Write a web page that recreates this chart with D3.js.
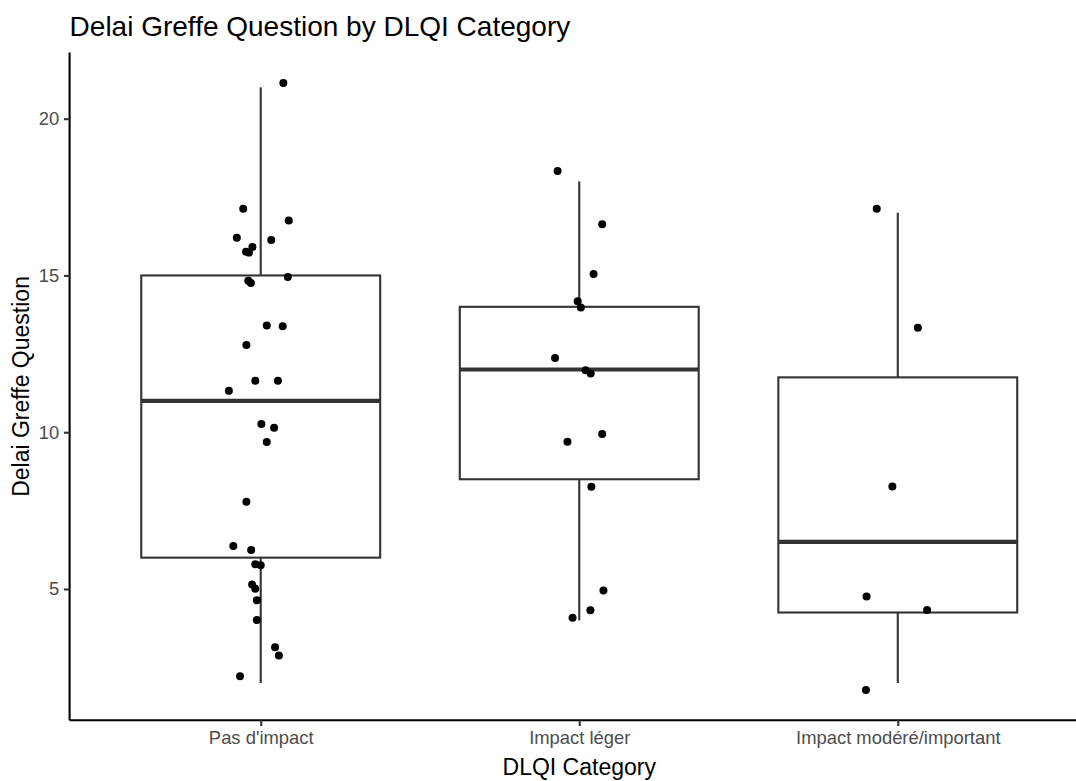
<!DOCTYPE html>
<html>
<head>
<meta charset="utf-8">
<script src="https://cdn.jsdelivr.net/npm/d3@7"></script>
<style>
  html, body { margin: 0; padding: 0; background: #ffffff; }
  svg { display: block; font-family: "Liberation Sans", Arial, sans-serif; }
</style>
</head>
<body>
<svg id="chart" width="1076" height="781"></svg>
<script>
// ---------------- data ----------------
const categories = ["Pas d'impact", "Impact léger", "Impact modéré/important"];

// box statistics per category: [lower whisker, Q1, median, Q3, upper whisker]
const boxStats = [
  [2, 6, 11, 15, 21],
  [4, 8.5, 12, 14, 18],
  [2, 4.25, 6.5, 11.75, 17]
];

// jittered points per category: [horizontal jitter (category units), value]
const ptsPas = [
  [0.071, 21.14], [-0.055, 17.13], [0.088, 16.75], [-0.075, 16.20], [0.033, 16.13],
  [-0.026, 15.91], [-0.046, 15.76], [-0.037, 15.73], [0.085, 14.95], [-0.039, 14.83],
  [-0.031, 14.76], [0.019, 13.40], [0.069, 13.38], [-0.045, 12.78], [-0.017, 11.64],
  [0.054, 11.64], [-0.100, 11.32], [0.002, 10.26], [0.042, 10.14], [0.019, 9.69],
  [-0.045, 7.78], [-0.086, 6.37], [-0.030, 6.24], [-0.017, 5.79], [0.000, 5.76],
  [-0.027, 5.14], [-0.017, 5.01], [-0.012, 4.64], [-0.012, 4.01], [0.045, 3.14],
  [0.057, 2.88], [-0.065, 2.22]
];
const ptsLeger = [
  [-0.068, 18.33], [0.072, 16.63], [0.045, 15.05], [-0.005, 14.18], [0.005, 13.98],
  [-0.076, 12.37], [0.020, 11.98], [0.036, 11.87], [0.072, 9.94], [-0.037, 9.70],
  [0.038, 8.26], [0.076, 4.95], [0.035, 4.32], [-0.021, 4.08]
];
const ptsModere = [
  [-0.066, 17.13], [0.063, 13.33], [-0.017, 8.27], [-0.098, 4.76], [0.092, 4.33],
  [-0.100, 1.78]
];
const yTicks = [5, 10, 15, 20];

const titleText = "Delai Greffe Question by DLQI Category";
const xTitle = "DLQI Category";
const yTitle = "Delai Greffe Question";

// ---------------- layout ----------------
const svg = d3.select("#chart");
const panel = { left: 69.6, right: 1088.9, top: 52.6, bottom: 720.3 };

const allPts = [ptsPas, ptsLeger, ptsModere].flatMap((arr, i) =>
  arr.map(d => ({ cat: i, jit: d[0], v: d[1] })));

const allVals = allPts.map(d => d.v).concat(boxStats.flat());
const vmin = d3.min(allVals), vmax = d3.max(allVals);
const pad = (vmax - vmin) * 0.05;

const x = d3.scaleLinear().domain([0.4, 3.6]).range([panel.left, panel.right]);
const y = d3.scaleLinear().domain([vmin - pad, vmax + pad]).range([panel.bottom, panel.top]);

const boxW = 0.75; // in category units
const lw = 2.1;

// ---------------- boxes ----------------
const g = svg.append("g");
const boxes = g.selectAll("g.box").data(boxStats).join("g").attr("class", "box");

boxes.append("line")
  .attr("x1", (d, i) => x(i + 1)).attr("x2", (d, i) => x(i + 1))
  .attr("y1", d => y(d[3])).attr("y2", d => y(d[4]))
  .attr("stroke", "#333333").attr("stroke-width", lw);
boxes.append("line")
  .attr("x1", (d, i) => x(i + 1)).attr("x2", (d, i) => x(i + 1))
  .attr("y1", d => y(d[1])).attr("y2", d => y(d[0]))
  .attr("stroke", "#333333").attr("stroke-width", lw);
boxes.append("rect")
  .attr("x", (d, i) => x(i + 1 - boxW / 2))
  .attr("width", (d, i) => x(i + 1 + boxW / 2) - x(i + 1 - boxW / 2))
  .attr("y", d => y(d[3]))
  .attr("height", d => y(d[1]) - y(d[3]))
  .attr("fill", "#ffffff").attr("stroke", "#333333").attr("stroke-width", lw);
boxes.append("line")
  .attr("x1", (d, i) => x(i + 1 - boxW / 2)).attr("x2", (d, i) => x(i + 1 + boxW / 2))
  .attr("y1", d => y(d[2])).attr("y2", d => y(d[2]))
  .attr("stroke", "#333333").attr("stroke-width", lw * 2);

// ---------------- points ----------------
g.selectAll("circle.pt").data(allPts).join("circle")
  .attr("class", "pt")
  .attr("cx", d => x(d.cat + 1 + d.jit))
  .attr("cy", d => y(d.v))
  .attr("r", 4)
  .attr("fill", "#000000");

// ---------------- axes ----------------
const yAxis = svg.append("g")
  .attr("transform", `translate(${panel.left},0)`)
  .call(d3.axisLeft(y).tickValues(yTicks).tickSize(5.7).tickPadding(4.6).tickFormat(d3.format("d")));
yAxis.select(".domain").attr("stroke", "#000000").attr("stroke-width", lw)
  .attr("d", `M0,${panel.bottom}V${panel.top}`);
yAxis.selectAll(".tick line").attr("stroke", "#333333").attr("stroke-width", lw);
yAxis.selectAll(".tick text").attr("fill", "#4D4D4D").style("font-size", "18.4px")
  .attr("font-family", "Liberation Sans, Arial, sans-serif");

const xAxis = svg.append("g")
  .attr("transform", `translate(0,${panel.bottom})`)
  .call(d3.axisBottom(x).tickValues([1, 2, 3]).tickSize(5.7).tickPadding(4.6)
    .tickFormat(d => categories[d - 1]));
xAxis.select(".domain").attr("stroke", "#000000").attr("stroke-width", lw)
  .attr("d", `M${panel.left},0H${panel.right}`);
xAxis.selectAll(".tick line").attr("stroke", "#333333").attr("stroke-width", lw);
xAxis.selectAll(".tick text").attr("fill", "#4D4D4D").style("font-size", "18.4px")
  .attr("font-family", "Liberation Sans, Arial, sans-serif");

// ---------------- titles ----------------
svg.append("text")
  .attr("x", panel.left).attr("y", 36)
  .attr("fill", "#000000").style("font-size", "28px")
  .text(titleText);

svg.append("text")
  .attr("x", (panel.left + panel.right) / 2).attr("y", 775)
  .attr("text-anchor", "middle")
  .attr("fill", "#000000").style("font-size", "23px")
  .text(xTitle);

svg.append("text")
  .attr("transform", `translate(29,${(panel.top + panel.bottom) / 2}) rotate(-90)`)
  .attr("text-anchor", "middle")
  .attr("fill", "#000000").style("font-size", "23px")
  .text(yTitle);
</script>
</body>
</html>
